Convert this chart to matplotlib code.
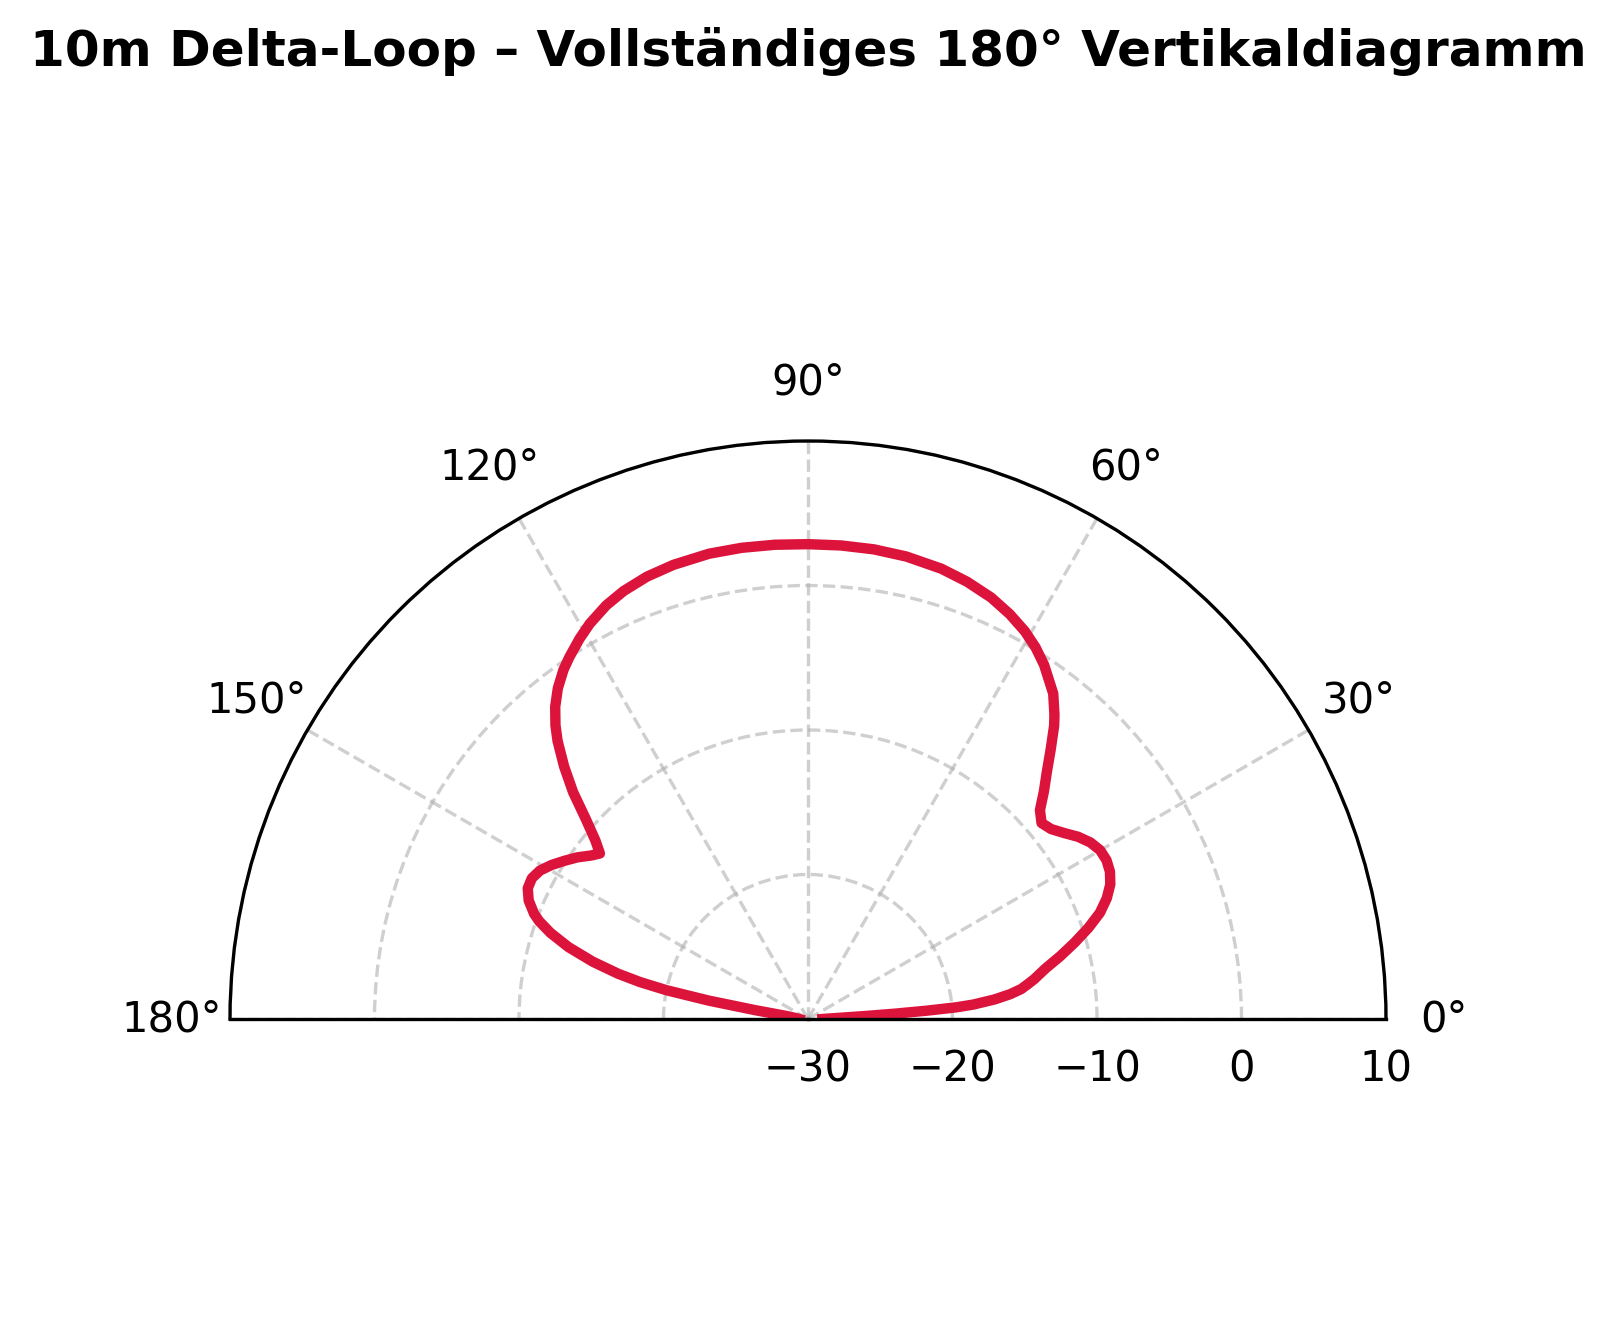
import numpy as np
import matplotlib
matplotlib.use("Agg")
import matplotlib.pyplot as plt

# elevation angle in degrees and gain in dB
angles_deg = [0, 1, 2, 3, 3.5, 4, 4.5, 5, 6, 7, 8, 9, 10, 12, 14, 16, 18, 20, 22, 24,
              26, 28, 30, 32, 34, 36, 38, 40, 42, 44, 46, 48, 50, 51, 53, 56.3, 58.5,
              60.8, 63.5, 66.5, 70, 73.5, 78, 82, 86, 90, 94, 98, 102, 106.5, 110,
              113.3, 116, 118.9, 121, 123.4, 125, 127.1, 129, 130.7, 132, 134, 136, 138,
              140, 141.5, 143, 145, 147, 149, 151, 153, 155, 157, 159, 160, 161.5, 163.3,
              165.1, 166.6, 167.6, 168.5, 169.5, 170.5, 172, 176, 180]
gain_db = [-29.0, -28.7, -28.0, -26.0, -24.0, -21.8, -19.7, -18.5, -17.0, -15.9, -15.1,
           -14.6, -14.1, -13.2, -12.0, -10.8, -9.6, -8.5, -7.7, -7.1,
           -6.75, -6.6, -6.65, -6.95, -7.45, -8.1, -8.65, -8.9, -8.4, -7.3, -6.2, -4.9, -3.5,
           -2.9, -1.8, -0.55, 0.15,
           0.75, 1.3, 1.8, 2.2, 2.5, 2.72, 2.82, 2.85, 2.86, 2.9, 2.93, 2.92, 2.78, 2.58,
           2.25, 1.85, 1.25, 0.7, 0.0, -0.5, -1.3, -2.2, -3.2, -4.1, -5.7, -7.4, -9.3,
           -10.8, -11.6, -11.2, -10.5, -9.9, -9.3, -8.8, -8.55, -8.6, -9.0, -9.7, -10.2,
           -11.2, -12.7,
           -14.6, -16.5, -18.1, -20.0, -23.0, -26.3, -28.5, -29.2, -29.4]

r_ticks = [-30, -20, -10, 0, 10]
theta_ticks = [0, 30, 60, 90, 120, 150, 180]

fig = plt.figure(figsize=(1616 / 300, 1337 / 300), dpi=300)
ax = fig.add_axes([230 / 1616, 29 / 1337, 1156 / 1616, 1156 / 1337], projection="polar")

ax.plot(np.radians(angles_deg), gain_db, color="crimson", linewidth=2.5,
        solid_joinstyle="round")

ax.set_thetamin(0)
ax.set_thetamax(180)
ax.set_rlim(-30, 10)
ax.set_rticks(r_ticks)
ax.set_thetagrids(theta_ticks, [f"{t}°" for t in theta_ticks])
ax.grid(True, linestyle="--", alpha=0.6)

fig.suptitle("10m Delta-Loop – Vollständiges 180° Vertikaldiagramm",
             fontsize=12, fontweight="bold", y=1 - 51 / 1337, va="center")

fig.savefig("out.png", dpi=300)
